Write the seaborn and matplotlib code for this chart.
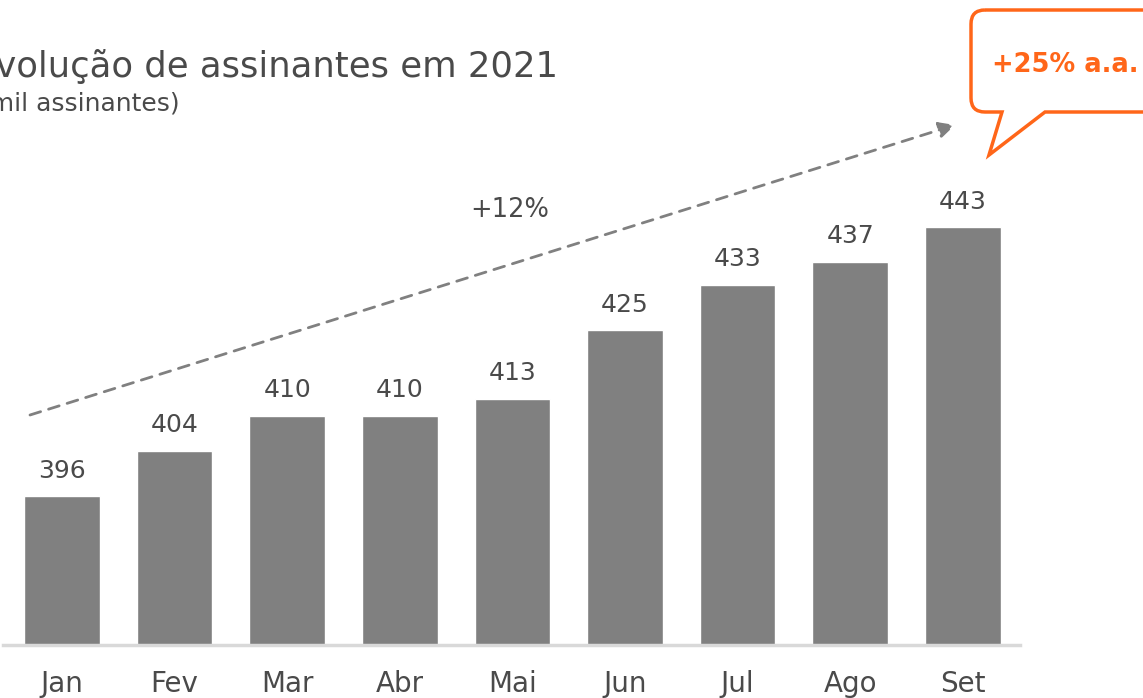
import matplotlib
matplotlib.use("Agg")
import matplotlib.pyplot as plt
import seaborn as sns
import pandas as pd
from matplotlib.path import Path
from matplotlib.patches import PathPatch

months = ["Jan", "Fev", "Mar", "Abr", "Mai", "Jun", "Jul", "Ago", "Set"]
subscribers = [396, 404, 410, 410, 413, 425, 433, 437, 443]
title = "Evolução de assinantes em 2021"
subtitle = "(mil assinantes)"
growth_label = "+12%"
annual_label = "+25% a.a."

sns.set_theme(style="white")
plt.rcParams["font.family"] = ["DejaVu Sans"]

W, H = 1143, 698
fig = plt.figure(figsize=(W / 100, H / 100), dpi=100)
ax = fig.add_axes([0, (H - 645) / H, 1, 645 / H])

df = pd.DataFrame({"month": months, "value": subscribers})
sns.barplot(data=df, x="month", y="value", color="#808080", saturation=1,
            width=0.67, ax=ax)

spacing = 112.6
ax.set_xlim(-62 / spacing, (W - 62) / spacing)
ppu = 5.72
ax.set_ylim(370, 370 + 645 / ppu)

text_col = "#4a4a4a"
for s in ["top", "right", "left"]:
    ax.spines[s].set_visible(False)
ax.spines["bottom"].set_color("#d9d9d9")
ax.spines["bottom"].set_linewidth(2.5)
ax.spines["bottom"].set_bounds(-59 / spacing, (1020 - 62) / spacing)
ax.set_yticks([])
ax.set_xlabel("")
ax.set_ylabel("")
ax.tick_params(axis="x", length=0, pad=18, labelsize=20, labelcolor=text_col)

for i, v in enumerate(subscribers):
    ax.text(i, v + 2.4, str(v), ha="center", va="bottom", fontsize=18, color=text_col)

def px2d(px, py):
    return ((px - 62) / spacing, 370 + (645 - py) / ppu)

ax.annotate("", xy=px2d(955, 125), xytext=px2d(30, 415),
            arrowprops=dict(arrowstyle="-|>,head_length=0.8,head_width=0.4",
                            color="#808080", lw=2, linestyle=(0, (4, 3)),
                            shrinkA=0, shrinkB=0))
ax.text(*px2d(510, 210), growth_label, ha="center", va="center",
        fontsize=18.5, color=text_col)

fig.text(558 / W, 1 - 66 / H, title, ha="right", va="center", fontsize=25.5, color=text_col)
fig.text(180 / W, 1 - 104 / H, subtitle, ha="right", va="center", fontsize=18, color=text_col)

# speech-bubble callout
orange = "#FF6619"
x0, y0, x1, y1, r = 971, 10, 1170, 112, 14
pts = [
    (x0 + r, y0), (x1 - r, y0), (x1, y0), (x1, y0 + r),
    (x1, y1 - r), (x1, y1), (x1 - r, y1),
    (1045, y1), (989, 155), (1002, y1),
    (x0 + r, y1), (x0, y1), (x0, y1 - r),
    (x0, y0 + r), (x0, y0), (x0 + r, y0),
]
codes = [Path.MOVETO, Path.LINETO, Path.CURVE3, Path.CURVE3,
         Path.LINETO, Path.CURVE3, Path.CURVE3,
         Path.LINETO, Path.LINETO, Path.LINETO,
         Path.LINETO, Path.CURVE3, Path.CURVE3,
         Path.LINETO, Path.CURVE3, Path.CURVE3]
verts = [(px / W, 1 - py / H) for px, py in pts]
patch = PathPatch(Path(verts, codes), facecolor="white", edgecolor=orange,
                  lw=2.5, transform=fig.transFigure, clip_on=False)
fig.add_artist(patch)
fig.text(1065 / W, 1 - 65 / H, annual_label, ha="center", va="center",
         fontsize=18.5, fontweight="bold", color=orange)

fig.savefig("out.png", dpi=100, facecolor="white")
